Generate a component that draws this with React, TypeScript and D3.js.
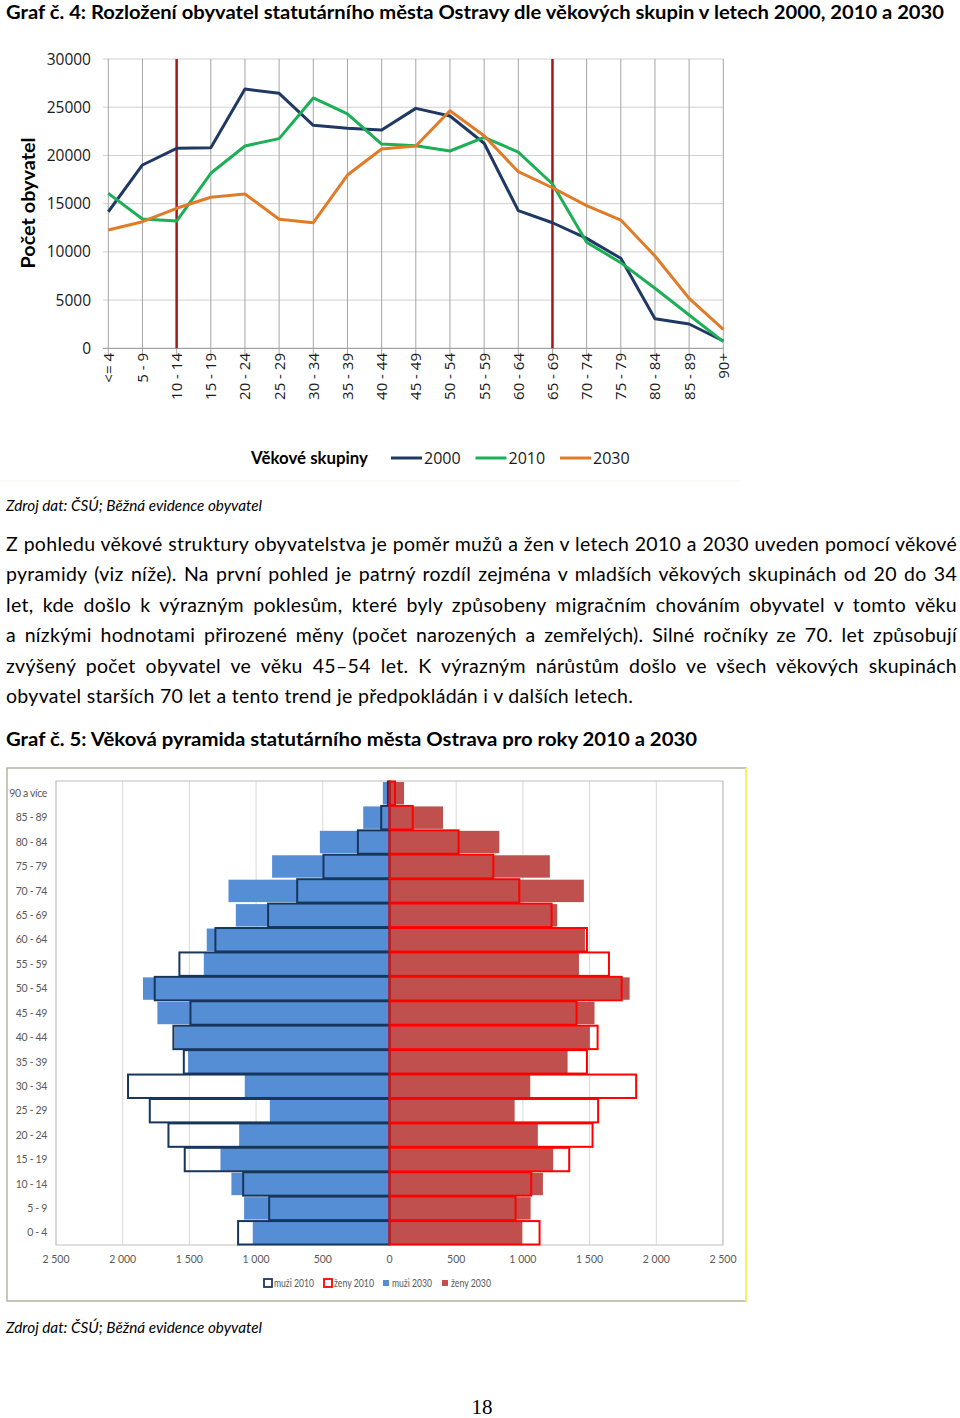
import React, { useLayoutEffect, useRef, useState } from 'react';
import * as d3 from 'd3';

// Graf 4: age groups and population counts
const ageGroups = ["<= 4", "5 - 9", "10 - 14", "15 - 19", "20 - 24", "25 - 29", "30 - 34", "35 - 39", "40 - 44",
  "45 - 49", "50 - 54", "55 - 59", "60 - 64", "65 - 69", "70 - 74", "75 - 79", "80 - 84", "85 - 89", "90+"];
const pop2000 = [14160, 19010, 20740, 20800, 26890, 26440, 23120, 22810, 22640, 24880, 24090, 21260, 14270, 13020, 11400, 9330, 3070, 2520, 760];
const pop2010 = [16070, 13410, 13200, 18150, 20980, 21740, 25960, 24300, 21180, 21010, 20460, 21880, 20350, 17040, 10990, 8880, 6220, 3450, 690];
const pop2030 = [12270, 13130, 14520, 15660, 16000, 13380, 13020, 17970, 20670, 20980, 24640, 22050, 18310, 16650, 14790, 13300, 9570, 5180, 1970];
const markerGroups = ["10 - 14", "65 - 69"];
const yTicks = [0, 5000, 10000, 15000, 20000, 25000, 30000];

// Graf 5: pyramid
const pyramidGroups = ["0 - 4", "5 - 9", "10 - 14", "15 - 19", "20 - 24", "25 - 29", "30 - 34", "35 - 39", "40 - 44",
  "45 - 49", "50 - 54", "55 - 59", "60 - 64", "65 - 69", "70 - 74", "75 - 79", "80 - 84", "85 - 89", "90 a více"];
const men2010 = [1135, 902, 1097, 1535, 1657, 1797, 1960, 1542, 1620, 1492, 1760, 1575, 1305, 910, 692, 495, 237, 62, 12];
const men2030 = [1025, 1090, 1185, 1267, 1127, 897, 1085, 1510, 1612, 1740, 1848, 1392, 1370, 1152, 1207, 880, 522, 197, 50];
const women2010 = [1125, 945, 1062, 1347, 1522, 1564, 1849, 1480, 1560, 1402, 1740, 1645, 1480, 1215, 973, 778, 518, 174, 41];
const women2030 = [995, 1058, 1150, 1227, 1112, 938, 1055, 1335, 1502, 1537, 1800, 1420, 1465, 1257, 1457, 1202, 823, 401, 109];
const pyramidTicks = [-2500, -2000, -1500, -1000, -500, 0, 500, 1000, 1500, 2000, 2500];

const paragraph = [
  "Z pohledu věkové struktury obyvatelstva je poměr mužů a žen v letech 2010 a 2030 uveden pomocí věkové",
  "pyramidy (viz níže). Na první pohled je patrný rozdíl zejména v mladších věkových skupinách od 20 do 34",
  "let, kde došlo k výrazným poklesům, které byly způsobeny migračním chováním obyvatel v tomto věku",
  "a nízkými hodnotami přirozené měny (počet narozených a zemřelých). Silné ročníky ze 70. let způsobují",
  "zvýšený počet obyvatel ve věku 45–54 let. K výrazným nárůstům došlo ve všech věkových skupinách",
  "obyvatel starších 70 let a tento trend je předpokládán i v dalších letech.",
];

const BODY = "Lato, 'Noto Sans', sans-serif";
const AXIS = "'Open Sans', 'Noto Sans', sans-serif";
const JUSTIFY_W = 951;

export default function App() {
  const lineRefs = useRef<(SVGTextElement | null)[]>([]);
  const [wordSp, setWordSp] = useState<number[]>(paragraph.map(() => 0));

  // justify paragraph lines by spreading the gaps between words
  useLayoutEffect(() => {
    const sp = paragraph.map((l, i) => {
      const el = lineRefs.current[i];
      if (!el || i === paragraph.length - 1) return 0;
      const w = el.getComputedTextLength();
      const gaps = l.split(" ").length - 1;
      return gaps > 0 ? (JUSTIFY_W - w) / gaps : 0;
    });
    setWordSp(sp);
  }, []);

  // line chart scales
  const x = d3.scalePoint<string>().domain(ageGroups).range([108.3, 723.3]);
  const y = d3.scaleLinear().domain([0, 30000]).range([348.3, 59]);
  const line = d3.line<number>().x((_, i) => x(ageGroups[i])!).y(d => y(d));
  const series = [
    { name: "2000", values: pop2000, color: "#1F3864" },
    { name: "2010", values: pop2010, color: "#1DAF56" },
    { name: "2030", values: pop2030, color: "#E07B28" },
  ];

  // pyramid scales
  const px = d3.scaleLinear().domain([-2500, 2500]).range([56, 723]);
  const py = d3.scaleBand<string>().domain([...pyramidGroups].reverse()).range([781, 1245]);
  const bw = py.bandwidth();
  const fmt = (v: number) => d3.format(",")(Math.abs(v)).replace(",", "\u00a0");

  const pyrLegend = [
    { label: "muži 2010", x: 268, fill: "#fff", stroke: "#1F3864", sz: 8 },
    { label: "ženy 2010", x: 328, fill: "#fff", stroke: "#FF0000", sz: 8 },
    { label: "muži 2030", x: 386, fill: "#558ED5", stroke: "none", sz: 6 },
    { label: "ženy 2030", x: 445, fill: "#C0504D", stroke: "none", sz: 6 },
  ];

  return (
    <>
      <style>{"body{margin:0;background:#fff}"}</style>
      <svg width={960} height={1418} style={{ display: 'block' }}>
        <rect width={960} height={1418} fill="#fff" />

        {/* Graf 4 title */}
        <text x={6} y={19} fontFamily={BODY} fontWeight="bold" fontSize={18.5} textLength={938} lengthAdjust="spacingAndGlyphs">
          Graf č. 4: Rozložení obyvatel statutárního města Ostravy dle věkových skupin v letech 2000, 2010 a 2030
        </text>

        {/* grid */}
        {yTicks.map(t => (
          <line key={t} x1={103} x2={723.3} y1={y(t)} y2={y(t)} stroke={t === 0 ? "#8C8C8C" : "#D0D0D0"} strokeWidth={1} />
        ))}
        {ageGroups.map(g => (
          <line key={g} x1={x(g)} x2={x(g)} y1={59} y2={355} stroke="#A6A6A6" strokeWidth={1} />
        ))}
        {markerGroups.map(g => (
          <line key={g} x1={x(g)} x2={x(g)} y1={59} y2={348.3} stroke="#A31919" strokeWidth={2.5} />
        ))}
        {yTicks.map(t => (
          <text key={t} x={91} y={y(t)} dy="0.36em" textAnchor="end" fontFamily={AXIS} fontSize={15.5} fill="#1a1a1a">{t}</text>
        ))}
        {ageGroups.map(g => (
          <text key={g} transform={`translate(${x(g)! + 5.5},353) rotate(-90)`} textAnchor="end"
            fontFamily={AXIS} fontSize={15} fill="#1a1a1a">{g}</text>
        ))}
        <text transform="translate(35,203) rotate(-90)" textAnchor="middle" fontFamily={BODY} fontWeight="bold" fontSize={19}
          textLength={131} lengthAdjust="spacingAndGlyphs">Počet obyvatel</text>

        {series.map(s => (
          <path key={s.name} d={line(s.values)!} fill="none" stroke={s.color} strokeWidth={3} strokeLinejoin="round" />
        ))}

        {/* legend */}
        <text x={251} y={464} fontFamily={BODY} fontWeight="bold" fontSize={16.5} textLength={117} lengthAdjust="spacingAndGlyphs">Věkové skupiny</text>
        {series.map((s, i) => {
          const lx = 391 + i * 84.5;
          return (
            <g key={s.name}>
              <line x1={lx} x2={lx + 31} y1={458} y2={458} stroke={s.color} strokeWidth={3} />
              <text x={lx + 33} y={464} fontFamily={AXIS} fontSize={16} fill="#1a1a1a">{s.name}</text>
            </g>
          );
        })}
        <line x1={0} x2={740} y1={481} y2={481} stroke="#F2F2EA" />

        <text x={6} y={511} fontFamily={BODY} fontStyle="italic" fontSize={14.5} textLength={256} lengthAdjust="spacingAndGlyphs">
          Zdroj dat: ČSÚ; Běžná evidence obyvatel
        </text>

        {/* paragraph */}
        {paragraph.map((l, i) => (
          <text key={i} ref={el => { lineRefs.current[i] = el; }} x={6} y={551 + i * 30.4} fontFamily={BODY} fontSize={19.5}
            letterSpacing={0.3} wordSpacing={wordSp[i]}>{l}</text>
        ))}

        {/* Graf 5 title */}
        <text x={6} y={746} fontFamily={BODY} fontWeight="bold" fontSize={19} textLength={691} lengthAdjust="spacingAndGlyphs">
          Graf č. 5: Věková pyramida statutárního města Ostrava pro roky 2010 a 2030
        </text>

        {/* pyramid frame */}
        <rect x={7} y={768} width={739} height={533} fill="#fff" stroke="#B5B5A2" strokeWidth={1.5} />
        <line x1={746} x2={746} y1={768} y2={1301} stroke="#F3F35A" strokeWidth={2} />
        {pyramidTicks.map(t => (
          <line key={t} x1={px(t)} x2={px(t)} y1={781} y2={1245} stroke="#D9D9D9" />
        ))}
        <rect x={56} y={781} width={667} height={464} fill="none" stroke="#BFBFBF" />

        {/* 2030 filled bars */}
        {pyramidGroups.map((g, i) => (
          <g key={g}>
            <rect x={px(-men2030[i])} y={py(g)! + 1} width={px(0) - px(-men2030[i])} height={bw - 2} fill="#558ED5" />
            <rect x={px(0)} y={py(g)! + 1} width={px(women2030[i]) - px(0)} height={bw - 2} fill="#C0504D" />
          </g>
        ))}
        {/* 2010 outlined bars */}
        {pyramidGroups.map((g, i) => (
          <g key={g}>
            <rect x={px(-men2010[i])} y={py(g)! + 0.5} width={px(0) - px(-men2010[i])} height={bw - 1}
              fill="none" stroke="#17365D" strokeWidth={2} />
            <rect x={px(0)} y={py(g)! + 0.5} width={px(women2010[i]) - px(0)} height={bw - 1}
              fill="none" stroke="#FF0000" strokeWidth={2} />
          </g>
        ))}

        {pyramidGroups.map(g => (
          <text key={g} x={47} y={py(g)! + bw / 2} dy="0.35em" textAnchor="end" fontFamily={BODY} fontSize={10.5}
            letterSpacing={-0.35} fill="#595959">{g}</text>
        ))}
        {pyramidTicks.map(t => (
          <text key={t} x={px(t)} y={1263} textAnchor="middle" fontFamily={BODY} fontSize={10.5} fill="#595959">{fmt(t)}</text>
        ))}
        {pyrLegend.map(it => (
          <g key={it.label}>
            <rect x={it.x - it.sz / 2} y={1283 - it.sz / 2} width={it.sz} height={it.sz} fill={it.fill}
              stroke={it.stroke} strokeWidth={it.stroke === "none" ? 0 : 1.8} />
            <text x={it.x + 6} y={1283} dy="0.35em" fontFamily={BODY} fontSize={10.5} fill="#595959"
              textLength={40} lengthAdjust="spacingAndGlyphs">{it.label}</text>
          </g>
        ))}

        <text x={6} y={1333} fontFamily={BODY} fontStyle="italic" fontSize={14.5} textLength={256} lengthAdjust="spacingAndGlyphs">
          Zdroj dat: ČSÚ; Běžná evidence obyvatel
        </text>

        <text x={482} y={1414} textAnchor="middle" fontFamily="'Liberation Serif', serif" fontSize={21}>18</text>
      </svg>
    </>
  );
}
